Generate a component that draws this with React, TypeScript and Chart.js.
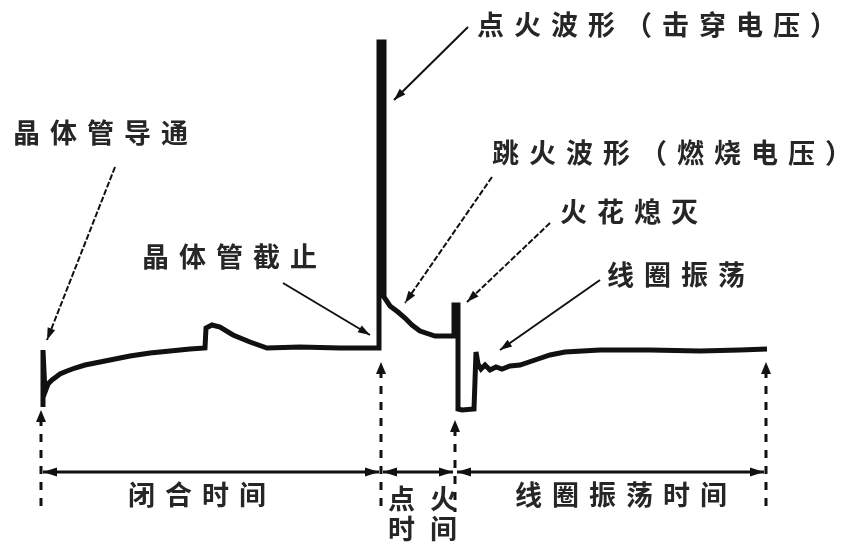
import React, { useEffect, useRef } from "react";
import { Chart, registerables } from "chart.js";

Chart.register(...registerables);

// Waveform: time axis (x) and secondary voltage (y)
const TIME = [43, 43, 45, 48, 52, 56, 60, 67, 75, 85, 100, 115, 130, 150, 170, 190, 205, 206, 212, 220, 233, 250, 267, 300, 340, 379, 379, 384, 384, 390, 398, 405, 412, 420, 435, 454, 454, 458, 458, 462, 474, 476, 478, 481, 485, 490, 496, 502, 510, 520, 535, 550, 565, 600, 650, 700, 740, 767];
const VOLTAGE = [137, 194, 152, 160, 164, 167, 170, 173, 176, 179, 182, 185, 188, 191, 193, 195, 196, 216, 219, 217, 209, 202, 196, 197, 196, 196, 502, 502, 247, 238, 232, 226, 219, 213, 208, 208, 239, 239, 135, 134, 135, 192, 180, 175, 179, 174, 177, 175, 178, 179, 184, 189, 192, 194, 194, 193, 194, 195];

// Phase boundaries (time) and labels
const PHASE_TIMES = [41, 381, 455, 766];
const PHASE_MARK_TOP = [134, 182, 124, 182];
const PHASE_LABELS = ["闭合时间", "点火\n时间", "线圈振荡时间"];

// Callout labels and the waveform point each one points to
const CALLOUT_TEXT = ["晶体管导通", "晶体管截止", "点火波形（击穿电压）", "跳火波形（燃烧电压）", "火花熄灭", "线圈振荡"];
const CALLOUT_TEXT_POS = [[13, 411], [142, 287], [477, 519], [492, 391], [560, 332], [607, 269]];
const CALLOUT_FROM = [[115, 377], [283, 261], [468, 517], [492, 367], [550, 321], [600, 264]];
const CALLOUT_TO = [[47, 204], [370, 209], [394, 444], [405, 241], [467, 242], [500, 194]];
const CALLOUT_DASHED = [true, false, false, true, true, false];

const INK = "#111";
const TEXT_INK = "#262626";

function arrowHead(ctx: CanvasRenderingContext2D, x1: number, y1: number, x2: number, y2: number, len: number, half: number) {
  const a = Math.atan2(y2 - y1, x2 - x1);
  ctx.beginPath();
  ctx.moveTo(x2, y2);
  ctx.lineTo(x2 - len * Math.cos(a) + half * Math.sin(a), y2 - len * Math.sin(a) - half * Math.cos(a));
  ctx.lineTo(x2 - len * Math.cos(a) - half * Math.sin(a), y2 - len * Math.sin(a) + half * Math.cos(a));
  ctx.closePath();
  ctx.fill();
}

const annotationPlugin = {
  id: "ignitionAnnotations",
  afterDatasetsDraw(chart: any) {
    const ctx: CanvasRenderingContext2D = chart.ctx;
    const xs = chart.scales.x;
    const ys = chart.scales.y;
    const px = (v: number) => xs.getPixelForValue(v);
    const py = (v: number) => ys.getPixelForValue(v);
    ctx.save();
    ctx.strokeStyle = INK;
    ctx.fillStyle = INK;

    // callout arrows
    CALLOUT_FROM.forEach((f, i) => {
      const t = CALLOUT_TO[i];
      const x1 = px(f[0]), y1 = py(f[1]), x2 = px(t[0]), y2 = py(t[1]);
      ctx.lineWidth = 2;
      ctx.setLineDash(CALLOUT_DASHED[i] ? [6, 2] : []);
      ctx.beginPath();
      ctx.moveTo(x1, y1);
      ctx.lineTo(x2, y2);
      ctx.stroke();
      ctx.setLineDash([]);
      arrowHead(ctx, x1, y1, x2, y2, 12, 4);
    });

    // phase boundary dashed markers
    const bottom = py(32);
    PHASE_TIMES.forEach((t, i) => {
      const x = px(t);
      const top = py(PHASE_MARK_TOP[i]);
      ctx.lineWidth = 3;
      ctx.setLineDash([8, 8]);
      ctx.beginPath();
      ctx.moveTo(x, top + 8);
      ctx.lineTo(x, bottom);
      ctx.stroke();
      ctx.setLineDash([]);
      arrowHead(ctx, x, top + 20, x, top, 12, 5);
    });

    // double arrows for durations
    const yArrow = py(72);
    for (let i = 0; i < PHASE_TIMES.length - 1; i++) {
      const a = px(PHASE_TIMES[i]) + 2;
      const b = px(PHASE_TIMES[i + 1]) - 2;
      ctx.lineWidth = 3;
      ctx.beginPath();
      ctx.moveTo(a, yArrow);
      ctx.lineTo(b, yArrow);
      ctx.stroke();
      arrowHead(ctx, b - 20, yArrow, b, yArrow, 14, 4.5);
      arrowHead(ctx, a + 20, yArrow, a, yArrow, 14, 4.5);
    }

    // texts
    ctx.fillStyle = TEXT_INK;
    ctx.textBaseline = "middle";
    ctx.textAlign = "left";
    ctx.font = 'bold 27px "Noto Sans CJK SC"';
    (ctx as any).letterSpacing = "10px";
    CALLOUT_TEXT.forEach((s, i) => {
      ctx.fillText(s, px(CALLOUT_TEXT_POS[i][0]), py(CALLOUT_TEXT_POS[i][1]));
    });

    // phase labels
    ctx.fillText(PHASE_LABELS[0], px(128), py(49));
    ctx.fillText(PHASE_LABELS[2], px(515), py(49));
    (ctx as any).letterSpacing = "15px";
    const lines = PHASE_LABELS[1].split("\n");
    ctx.fillText(lines[0], px(388), py(45));
    ctx.fillText(lines[1], px(388), py(15));
    ctx.restore();
  },
};

export default function App() {
  const ref = useRef<HTMLCanvasElement | null>(null);
  useEffect(() => {
    if (!ref.current) return;
    const chart = new Chart(ref.current, {
      type: "line",
      data: {
        datasets: [
          {
            label: "次级电压",
            data: TIME.map((t, i) => ({ x: t, y: VOLTAGE[i] })),
            borderColor: INK,
            borderWidth: 5,
            pointRadius: 0,
            tension: 0,
            fill: false,
            borderJoinStyle: "miter",
          },
        ],
      },
      options: {
        animation: false,
        responsive: false,
        devicePixelRatio: 1,
        layout: { padding: 0 },
        plugins: { legend: { display: false }, tooltip: { enabled: false } },
        scales: {
          x: { type: "linear", display: false, min: 0, max: 853 },
          y: { type: "linear", display: false, min: 0, max: 544 },
        },
      },
      plugins: [annotationPlugin],
    });
    return () => chart.destroy();
  }, []);
  return (
    <div style={{ position: "fixed", left: 0, top: 0, width: 853, height: 544, background: "#fff" }}>
      <canvas ref={ref} width={853} height={544} />
    </div>
  );
}
